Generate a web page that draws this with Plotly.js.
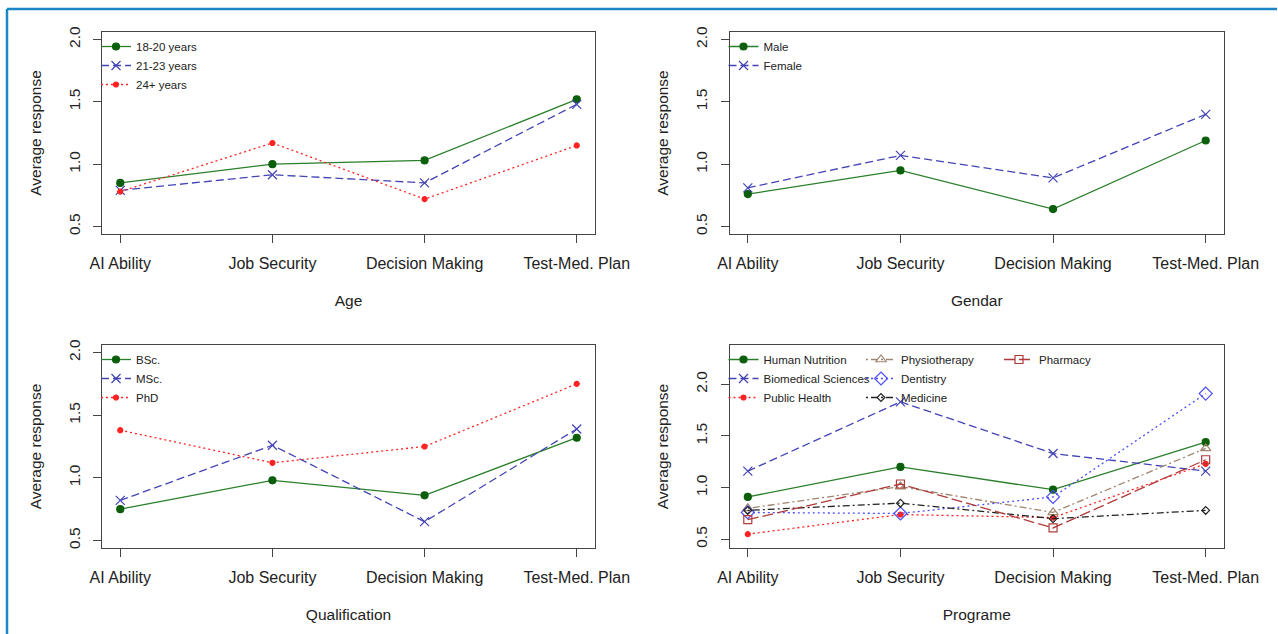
<!DOCTYPE html>
<html>
<head>
<meta charset="utf-8">
<script src="https://cdn.plot.ly/plotly-3.0.1.min.js"></script>
<style>html,body{margin:0;padding:0;background:#fff;}#chart{width:1278px;height:634px;}</style>
</head>
<body>
<div id="chart"></div>
<script>
// ---- data ----
const categories = ['AI Ability', 'Job Security', 'Decision Making', 'Test-Med. Plan'];
const yTickVals = [0.5, 1.0, 1.5, 2.0];

// Age
const ageNames = ['18-20 years', '21-23 years', '24+ years'];
const age18to20 = [0.85, 1.00, 1.03, 1.52];
const age21to23 = [0.79, 0.915, 0.85, 1.48];
const age24plus = [0.78, 1.17, 0.72, 1.15];

// Gender
const genderNames = ['Male', 'Female'];
const male = [0.76, 0.95, 0.64, 1.19];
const female = [0.81, 1.07, 0.89, 1.40];

// Qualification
const qualNames = ['BSc.', 'MSc.', 'PhD'];
const bsc = [0.75, 0.98, 0.86, 1.32];
const msc = [0.82, 1.26, 0.65, 1.39];
const phd = [1.38, 1.12, 1.25, 1.75];

// Programme
const progNames = ['Human Nutrition', 'Biomedical Sciences', 'Public Health', 'Physiotherapy', 'Dentistry', 'Medicine', 'Pharmacy'];
const humanNutrition = [0.91, 1.20, 0.98, 1.44];
const biomedical = [1.16, 1.83, 1.33, 1.16];
const publicHealth = [0.55, 0.74, 0.71, 1.23];
const physiotherapy = [0.80, 1.01, 0.76, 1.38];
const dentistry = [0.76, 0.75, 0.91, 1.91];
const medicine = [0.78, 0.85, 0.70, 0.78];
const pharmacy = [0.69, 1.035, 0.61, 1.27];

// ---- styles ----
const W = 1278, H = 634;
const FONT = 'Liberation Sans, Arial, sans-serif';
const GREEN_L = '#2a7f2a', GREEN_M = '#0b5e0b';
const BLUE = '#4343b5', RED = '#ff2222';
const TAN = '#a08670', DBLUE = '#4d4dff', BLACK = '#222222', BROWN = '#b03a3a';
const DASH = '8px,4px', DOT = '2px,3px', DOTDASH = '2px,3px,7px,3px', LONGDASH = '11px,4px';

function st(name, y, xa, ya, leg, color, mcolor, dash, symbol, size) {
  return {
    type: 'scatter', mode: 'lines+markers', name: name,
    x: categories, y: y, xaxis: xa, yaxis: ya, legend: leg,
    line: {color: color, width: 1.3, dash: dash},
    marker: {color: mcolor, symbol: symbol, size: size, line: {color: mcolor, width: 1.2}},
    hoverinfo: 'x+y+name'
  };
}

const traces = [
  st(ageNames[0], age18to20, 'x', 'y', 'legend', GREEN_L, GREEN_M, 'solid', 'circle', 7),
  st(ageNames[1], age21to23, 'x', 'y', 'legend', BLUE, BLUE, DASH, 'x-thin-open', 9),
  st(ageNames[2], age24plus, 'x', 'y', 'legend', RED, RED, DOT, 'circle', 5),

  st(genderNames[0], male, 'x2', 'y2', 'legend2', GREEN_L, GREEN_M, 'solid', 'circle', 7),
  st(genderNames[1], female, 'x2', 'y2', 'legend2', BLUE, BLUE, DASH, 'x-thin-open', 9),

  st(qualNames[0], bsc, 'x3', 'y3', 'legend3', GREEN_L, GREEN_M, 'solid', 'circle', 7),
  st(qualNames[1], msc, 'x3', 'y3', 'legend3', BLUE, BLUE, DASH, 'x-thin-open', 9),
  st(qualNames[2], phd, 'x3', 'y3', 'legend3', RED, RED, DOT, 'circle', 5),

  st(progNames[0], humanNutrition, 'x4', 'y4', 'legend4', GREEN_L, GREEN_M, 'solid', 'circle', 7),
  st(progNames[1], biomedical, 'x4', 'y4', 'legend4', BLUE, BLUE, DASH, 'x-thin-open', 9),
  st(progNames[2], publicHealth, 'x4', 'y4', 'legend4', RED, RED, DOT, 'circle', 5),
  st(progNames[3], physiotherapy, 'x4', 'y4', 'legend5', TAN, TAN, DOTDASH, 'triangle-up-open', 9),
  st(progNames[4], dentistry, 'x4', 'y4', 'legend5', DBLUE, DBLUE, DOT, 'diamond-open', 10),
  st(progNames[5], medicine, 'x4', 'y4', 'legend5', BLACK, BLACK, DOTDASH, 'diamond-open', 6),
  st(progNames[6], pharmacy, 'x4', 'y4', 'legend6', BROWN, BROWN, LONGDASH, 'square-open', 8)
];

// panel geometry in pixels
const colL = [102, 729.5], colR = [595, 1224];
const rowT = [32, 345], rowB = [234, 548];
const px = v => v / W, py = v => 1 - v / H;

function xax(col, row, title) {
  return {
    domain: [px(colL[col]), px(colR[col])],
    type: 'category', categoryorder: 'array', categoryarray: categories,
    range: [-0.12, 3.12],
    showline: true, linecolor: '#444', linewidth: 1, mirror: true,
    ticks: 'outside', ticklen: 8, tickcolor: '#444', tickwidth: 1,
    ticklabelstandoff: 7,
    tickfont: {family: FONT, size: 16, color: '#222'},
    showgrid: false, zeroline: false, automargin: false, fixedrange: true,
    title: {text: title, font: {family: FONT, size: 15.5, color: '#222'}, standoff: 23}
  };
}
function yax(col, row, range) {
  return {
    domain: [py(rowB[row]), py(rowT[row])],
    range: range,
    tickvals: yTickVals, tickformat: '.1f', tickangle: -90,
    showline: true, linecolor: '#444', linewidth: 1, mirror: true,
    ticks: 'outside', ticklen: 8, tickcolor: '#444', tickwidth: 1,
    ticklabelstandoff: 7,
    tickfont: {family: FONT, size: 15.5, color: '#222'},
    showgrid: false, zeroline: false, automargin: false, fixedrange: true,
    title: {text: 'Average response', font: {family: FONT, size: 15.5, color: '#222'}, standoff: 20}
  };
}

function leg(xPix, yPix) {
  return {
    x: px(xPix), y: py(yPix), xanchor: 'left', yanchor: 'top',
    bgcolor: 'rgba(0,0,0,0)', borderwidth: 0,
    font: {family: FONT, size: 11.5, color: '#222'},
    itemwidth: 30, traceorder: 'normal', itemclick: false, itemdoubleclick: false
  };
}

const xa1 = xax(0, 0, 'Age'); xa1.anchor = 'y';
const xa2 = xax(1, 0, 'Gendar'); xa2.anchor = 'y2';
const xa3 = xax(0, 1, 'Qualification'); xa3.anchor = 'y3';
const xa4 = xax(1, 1, 'Programe'); xa4.anchor = 'y4';
const ya1 = yax(0, 0, [0.44, 2.06]); ya1.anchor = 'x';
const ya2 = yax(1, 0, [0.44, 2.06]); ya2.anchor = 'x2';
const ya3 = yax(0, 1, [0.44, 2.06]); ya3.anchor = 'x3';
const ya4 = yax(1, 1, [0.416, 2.38]); ya4.anchor = 'x4';

const layout = {
  width: W, height: H,
  margin: {l: 0, r: 0, t: 0, b: 0},
  paper_bgcolor: '#ffffff', plot_bgcolor: '#ffffff',
  font: {family: FONT, size: 13, color: '#222'},
  showlegend: true,
  xaxis: xa1, xaxis2: xa2, xaxis3: xa3, xaxis4: xa4,
  yaxis: ya1, yaxis2: ya2, yaxis3: ya3, yaxis4: ya4,
  legend: leg(96, 32),
  legend2: leg(723.5, 32),
  legend3: leg(96, 345),
  legend4: leg(723.5, 345),
  legend5: leg(861, 345),
  legend6: leg(999, 345),
  shapes: [
    {type: 'line', xref: 'paper', yref: 'paper', x0: px(7), x1: px(1277), y0: py(9), y1: py(9), line: {color: '#1a86c6', width: 2.5}},
    {type: 'line', xref: 'paper', yref: 'paper', x0: px(7), x1: px(7), y0: py(9), y1: 0, line: {color: '#1a86c6', width: 2.5}}
  ]
};

Plotly.newPlot('chart', traces, layout, {displayModeBar: false, staticPlot: true});
</script>
</body>
</html>
